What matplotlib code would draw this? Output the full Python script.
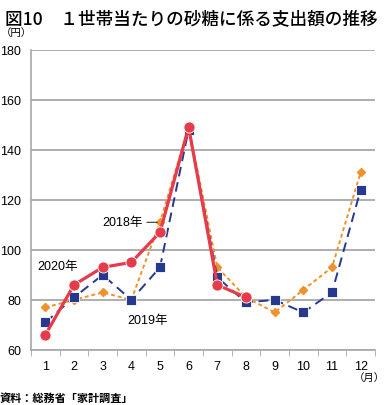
import matplotlib
matplotlib.use("Agg")
import matplotlib.pyplot as plt

plt.rcParams['font.family'] = ['Liberation Sans', 'Noto Sans CJK JP', 'DejaVu Sans']

months = list(range(1, 13))
month_labels = [str(m) for m in months]

y2018 = [77, 80, 83, 80, 111, 149, 93, 81, 75, 84, 93, 131]
y2019 = [71, 81, 90, 80, 93, 148, 89, 79, 80, 75, 83, 124]
y2020 = [66, 86, 93, 95, 107, 149, 86, 81]

yticks = [60, 80, 100, 120, 140, 160, 180]

RED = "#e63b4b"
BLUE = "#26398f"
ORANGE = "#f0922b"
GRID = "#a8a8a8"

fig = plt.figure(figsize=(3.87, 4.06), dpi=100)
ax = fig.add_axes([0.080, 0.1355, 0.889, 0.740])

ax.plot(months, y2018, color=ORANGE, lw=1.4, ls=(0, (2, 1.5)),
        marker="D", ms=4.5, mfc=ORANGE, mec=ORANGE, zorder=3)
ax.plot(months, y2019, color=BLUE, lw=1.4, ls=(0, (5, 3)),
        marker="s", ms=7, mfc=BLUE, mec="white", mew=0.6, zorder=4)
ax.plot(months[:len(y2020)], y2020, color=RED, lw=2.3,
        marker="o", ms=8, mfc=RED, mec="white", mew=0.6, zorder=5)

ax.set_xlim(0.5, 12.5)
ax.set_ylim(60, 180)
ax.set_yticks(yticks)
ax.set_xticks(months)
ax.set_xticklabels(month_labels)
ax.set_xticks([m + 0.5 for m in range(0, 13)], minor=True)
ax.tick_params(axis="x", which="major", length=0, pad=7, labelsize=9)
ax.tick_params(axis="x", which="minor", length=4, color=GRID, direction="out")
ax.tick_params(axis="y", length=0, pad=7, labelsize=9)

ax.grid(axis="y", color=GRID, lw=1.3)
ax.set_axisbelow(True)
for s in ["top", "right"]:
    ax.spines[s].set_visible(False)
for s in ["left", "bottom"]:
    ax.spines[s].set_color(GRID)
    ax.spines[s].set_linewidth(1.2)

# series labels
ax.annotate("2018年", xy=(5, y2018[4]), xytext=(4.4, y2018[4]),
            ha="right", va="center", fontsize=9,
            arrowprops=dict(arrowstyle="-", color="#333333", lw=0.8, shrinkA=1, shrinkB=2))
ax.text(0.72, 93.6, "2020年", ha="left", va="center", fontsize=9, zorder=6)
ax.text(3.86, 72, "2019年", ha="left", va="center", fontsize=9, zorder=6)

fig.text(0.013, 0.975, "図10　１世帯当たりの砂糖に係る支出額の推移",
         ha="left", va="top", fontsize=12.7, fontweight="medium",
         family=["Noto Sans CJK JP"])
fig.text(0.003, 0.918, "（円）", ha="left", va="center", fontsize=7.5,
         family=["Noto Sans CJK JP"])
fig.text(0.995, 0.068, "（月）", ha="right", va="center", fontsize=7.5,
         family=["Noto Sans CJK JP"])
fig.text(0.0, 0.02, "資料：総務省「家計調査」", ha="left", va="center",
         fontsize=8, fontweight="bold", family=["Noto Sans CJK JP"])

fig.savefig("out.png", dpi=100)
